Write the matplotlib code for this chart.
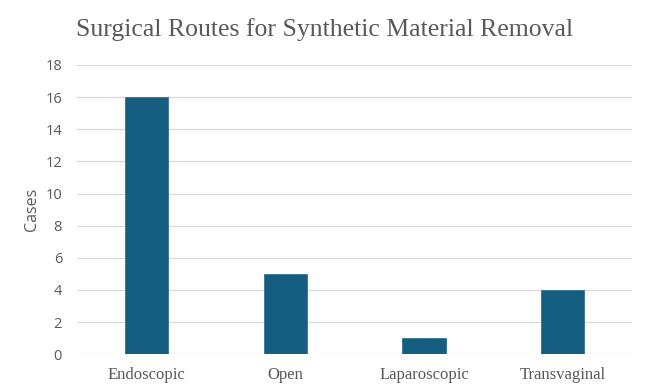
import matplotlib
matplotlib.use('Agg')
import matplotlib.pyplot as plt

routes = ['Endoscopic', 'Open', 'Laparoscopic', 'Transvaginal']
cases = [16, 5, 1, 4]
y_ticks = [0, 2, 4, 6, 8, 10, 12, 14, 16, 18]

grey = '#595959'

fig = plt.figure(figsize=(6.46, 3.88), dpi=100)
ax = fig.add_axes([0.1197, 0.0869, 0.8587, 0.7456])

x = list(range(len(routes)))
ax.bar(x, cases, width=0.314, color='#155E81', edgecolor='#2F7397', linewidth=0.6, zorder=3)

ax.set_xlim(-0.5, len(routes) - 0.5)
ax.set_ylim(0, 18)
ax.set_yticks(y_ticks)
ax.set_yticklabels([str(v) for v in y_ticks], family='Open Sans', fontsize=10.5, color=grey)
ax.set_xticks(x)
ax.set_xticklabels(routes, family='Liberation Serif', fontsize=12, color=grey)

ax.grid(True, axis='y', color='#D9D9D9', lw=0.9, zorder=0)
for s in ['top', 'right', 'left', 'bottom']:
    ax.spines[s].set_visible(False)
ax.tick_params(axis='both', length=0)
ax.tick_params(axis='y', pad=11)
ax.tick_params(axis='x', pad=9)

ax.set_ylabel('Cases', family='Open Sans', fontsize=11.5, color=grey, labelpad=4)

fig.text(0.503, 0.925, 'Surgical Routes for Synthetic Material Removal',
         ha='center', va='center', family='Liberation Serif', fontsize=18.5, color=grey)

fig.savefig('out.png', dpi=100)
